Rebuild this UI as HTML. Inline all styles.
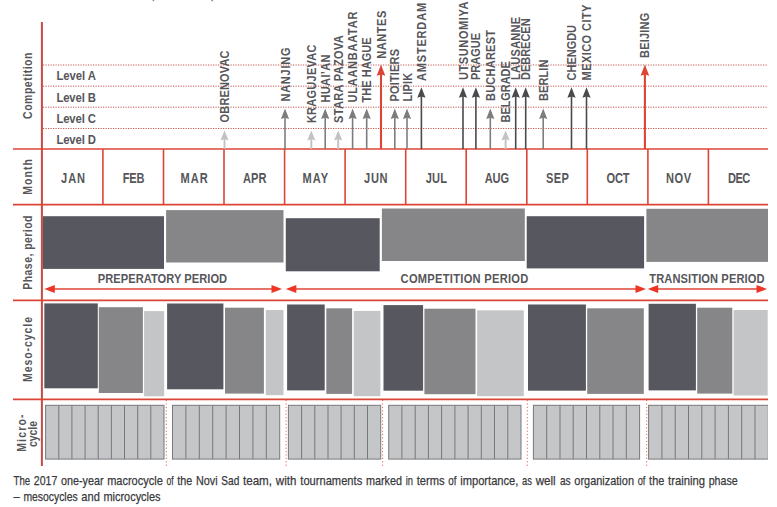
<!DOCTYPE html>
<html><head><meta charset="utf-8"><title>Macrocycle</title>
<style>
html,body{margin:0;padding:0;background:#fff;}
body{width:777px;height:507px;overflow:hidden;position:relative;font-family:"Liberation Sans",sans-serif;}
svg text{font-family:"Liberation Sans",sans-serif;}
.bd{font-weight:bold;}
</style></head><body>
<svg width="777" height="507" viewBox="0 0 777 507" style="position:absolute;left:0;top:0;display:block">
<rect x="0" y="0" width="777" height="507" fill="#ffffff"/>
<rect x="152.6" y="0" width="1.6" height="1.2" fill="#8a8a8c"/>
<rect x="211.3" y="0" width="1.8" height="1.2" fill="#8a8a8c"/>
<line x1="43" y1="65" x2="768" y2="65" stroke="#c6564e" stroke-width="1" stroke-dasharray="1.2 1.3"/>
<line x1="43" y1="86.2" x2="768" y2="86.2" stroke="#c6564e" stroke-width="1" stroke-dasharray="1.2 1.3"/>
<line x1="43" y1="107.2" x2="768" y2="107.2" stroke="#c6564e" stroke-width="1" stroke-dasharray="1.2 1.3"/>
<line x1="43" y1="128.5" x2="768" y2="128.5" stroke="#c6564e" stroke-width="1" stroke-dasharray="1.2 1.3"/>
<rect x="42.8" y="216.2" width="121.2" height="52.7" fill="#57575f"/>
<rect x="166.1" y="210.1" width="117.4" height="52.4" fill="#868689"/>
<rect x="285.8" y="218.2" width="93.9" height="53.1" fill="#57575f"/>
<rect x="381.9" y="208.5" width="142.9" height="52.5" fill="#868689"/>
<rect x="526.7" y="216.2" width="117.4" height="52.2" fill="#57575f"/>
<rect x="646.4" y="208.8" width="121.6" height="53.1" fill="#868689"/>
<rect x="44.3" y="303.4" width="53.5" height="84.9" fill="#57575f"/>
<rect x="98.8" y="307.2" width="44.1" height="85.8" fill="#868689"/>
<rect x="144.1" y="311.1" width="20.1" height="85.2" fill="#c4c5c7"/>
<rect x="167.1" y="303.5" width="56.3" height="85.8" fill="#57575f"/>
<rect x="225" y="307.7" width="38.9" height="85.9" fill="#868689"/>
<rect x="265.8" y="310" width="17.7" height="85.2" fill="#c4c5c7"/>
<rect x="287.1" y="304.5" width="37.6" height="85.9" fill="#57575f"/>
<rect x="326.3" y="308.3" width="25.8" height="85.6" fill="#868689"/>
<rect x="353.7" y="310.9" width="26.7" height="85.3" fill="#c4c5c7"/>
<rect x="383.5" y="305.1" width="39.6" height="85.6" fill="#57575f"/>
<rect x="424.4" y="308.7" width="51.1" height="85.5" fill="#868689"/>
<rect x="477.1" y="310.3" width="46.7" height="85.9" fill="#c4c5c7"/>
<rect x="528" y="304.5" width="57.9" height="86.2" fill="#57575f"/>
<rect x="587.2" y="308.3" width="56.6" height="85.6" fill="#868689"/>
<rect x="648.6" y="303.8" width="47.3" height="86.6" fill="#57575f"/>
<rect x="697.2" y="307.7" width="35.1" height="85.9" fill="#868689"/>
<rect x="733.6" y="310" width="34.1" height="85.5" fill="#c4c5c7"/>
<rect x="45.6" y="405.3" width="118.4" height="53.8" fill="#c5c6c8" stroke="#77787b" stroke-width="1"/>
<line x1="58.8" y1="405.3" x2="58.8" y2="459.1" stroke="#77787b" stroke-width="1"/>
<line x1="71.9" y1="405.3" x2="71.9" y2="459.1" stroke="#77787b" stroke-width="1"/>
<line x1="85.1" y1="405.3" x2="85.1" y2="459.1" stroke="#77787b" stroke-width="1"/>
<line x1="98.2" y1="405.3" x2="98.2" y2="459.1" stroke="#77787b" stroke-width="1"/>
<line x1="111.4" y1="405.3" x2="111.4" y2="459.1" stroke="#77787b" stroke-width="1"/>
<line x1="124.5" y1="405.3" x2="124.5" y2="459.1" stroke="#77787b" stroke-width="1"/>
<line x1="137.7" y1="405.3" x2="137.7" y2="459.1" stroke="#77787b" stroke-width="1"/>
<line x1="150.8" y1="405.3" x2="150.8" y2="459.1" stroke="#77787b" stroke-width="1"/>
<rect x="172.5" y="405.3" width="107.2" height="53.8" fill="#c5c6c8" stroke="#77787b" stroke-width="1"/>
<line x1="185.9" y1="405.3" x2="185.9" y2="459.1" stroke="#77787b" stroke-width="1"/>
<line x1="199.3" y1="405.3" x2="199.3" y2="459.1" stroke="#77787b" stroke-width="1"/>
<line x1="212.7" y1="405.3" x2="212.7" y2="459.1" stroke="#77787b" stroke-width="1"/>
<line x1="226.1" y1="405.3" x2="226.1" y2="459.1" stroke="#77787b" stroke-width="1"/>
<line x1="239.5" y1="405.3" x2="239.5" y2="459.1" stroke="#77787b" stroke-width="1"/>
<line x1="252.9" y1="405.3" x2="252.9" y2="459.1" stroke="#77787b" stroke-width="1"/>
<line x1="266.3" y1="405.3" x2="266.3" y2="459.1" stroke="#77787b" stroke-width="1"/>
<rect x="288.4" y="405.3" width="92.3" height="53.8" fill="#c5c6c8" stroke="#77787b" stroke-width="1"/>
<line x1="301.6" y1="405.3" x2="301.6" y2="459.1" stroke="#77787b" stroke-width="1"/>
<line x1="314.8" y1="405.3" x2="314.8" y2="459.1" stroke="#77787b" stroke-width="1"/>
<line x1="328.0" y1="405.3" x2="328.0" y2="459.1" stroke="#77787b" stroke-width="1"/>
<line x1="341.1" y1="405.3" x2="341.1" y2="459.1" stroke="#77787b" stroke-width="1"/>
<line x1="354.3" y1="405.3" x2="354.3" y2="459.1" stroke="#77787b" stroke-width="1"/>
<line x1="367.5" y1="405.3" x2="367.5" y2="459.1" stroke="#77787b" stroke-width="1"/>
<rect x="388.7" y="405.3" width="132.3" height="53.8" fill="#c5c6c8" stroke="#77787b" stroke-width="1"/>
<line x1="401.9" y1="405.3" x2="401.9" y2="459.1" stroke="#77787b" stroke-width="1"/>
<line x1="415.2" y1="405.3" x2="415.2" y2="459.1" stroke="#77787b" stroke-width="1"/>
<line x1="428.4" y1="405.3" x2="428.4" y2="459.1" stroke="#77787b" stroke-width="1"/>
<line x1="441.6" y1="405.3" x2="441.6" y2="459.1" stroke="#77787b" stroke-width="1"/>
<line x1="454.9" y1="405.3" x2="454.9" y2="459.1" stroke="#77787b" stroke-width="1"/>
<line x1="468.1" y1="405.3" x2="468.1" y2="459.1" stroke="#77787b" stroke-width="1"/>
<line x1="481.3" y1="405.3" x2="481.3" y2="459.1" stroke="#77787b" stroke-width="1"/>
<line x1="494.5" y1="405.3" x2="494.5" y2="459.1" stroke="#77787b" stroke-width="1"/>
<line x1="507.8" y1="405.3" x2="507.8" y2="459.1" stroke="#77787b" stroke-width="1"/>
<rect x="533.4" y="405.3" width="106.2" height="53.8" fill="#c5c6c8" stroke="#77787b" stroke-width="1"/>
<line x1="546.7" y1="405.3" x2="546.7" y2="459.1" stroke="#77787b" stroke-width="1"/>
<line x1="560.0" y1="405.3" x2="560.0" y2="459.1" stroke="#77787b" stroke-width="1"/>
<line x1="573.2" y1="405.3" x2="573.2" y2="459.1" stroke="#77787b" stroke-width="1"/>
<line x1="586.5" y1="405.3" x2="586.5" y2="459.1" stroke="#77787b" stroke-width="1"/>
<line x1="599.8" y1="405.3" x2="599.8" y2="459.1" stroke="#77787b" stroke-width="1"/>
<line x1="613.0" y1="405.3" x2="613.0" y2="459.1" stroke="#77787b" stroke-width="1"/>
<line x1="626.3" y1="405.3" x2="626.3" y2="459.1" stroke="#77787b" stroke-width="1"/>
<rect x="648.6" y="405.3" width="119.7" height="53.8" fill="#c5c6c8" stroke="#77787b" stroke-width="1"/>
<line x1="661.9" y1="405.3" x2="661.9" y2="459.1" stroke="#77787b" stroke-width="1"/>
<line x1="675.2" y1="405.3" x2="675.2" y2="459.1" stroke="#77787b" stroke-width="1"/>
<line x1="688.5" y1="405.3" x2="688.5" y2="459.1" stroke="#77787b" stroke-width="1"/>
<line x1="701.8" y1="405.3" x2="701.8" y2="459.1" stroke="#77787b" stroke-width="1"/>
<line x1="715.1" y1="405.3" x2="715.1" y2="459.1" stroke="#77787b" stroke-width="1"/>
<line x1="728.4" y1="405.3" x2="728.4" y2="459.1" stroke="#77787b" stroke-width="1"/>
<line x1="741.7" y1="405.3" x2="741.7" y2="459.1" stroke="#77787b" stroke-width="1"/>
<line x1="755.0" y1="405.3" x2="755.0" y2="459.1" stroke="#77787b" stroke-width="1"/>
<rect x="768" y="396" width="10" height="72" fill="#fff"/>
<line x1="166.3" y1="400" x2="166.3" y2="466" stroke="#dc4535" stroke-width="1" stroke-dasharray="1.2 2.2" opacity="0.8"/>
<line x1="286.1" y1="400" x2="286.1" y2="466" stroke="#dc4535" stroke-width="1" stroke-dasharray="1.2 2.2" opacity="0.8"/>
<line x1="382.6" y1="400" x2="382.6" y2="466" stroke="#dc4535" stroke-width="1" stroke-dasharray="1.2 2.2" opacity="0.8"/>
<line x1="527.3" y1="400" x2="527.3" y2="466" stroke="#dc4535" stroke-width="1" stroke-dasharray="1.2 2.2" opacity="0.8"/>
<line x1="646.7" y1="400" x2="646.7" y2="466" stroke="#dc4535" stroke-width="1" stroke-dasharray="1.2 2.2" opacity="0.8"/>
<line x1="41.9" y1="22" x2="41.9" y2="466" stroke="#c94a42" stroke-width="2"/>
<line x1="13" y1="149" x2="768" y2="149" stroke="#dc4535" stroke-width="1.7"/>
<line x1="13" y1="204.6" x2="768" y2="204.6" stroke="#dc4535" stroke-width="1.7"/>
<line x1="13" y1="300.4" x2="768" y2="300.4" stroke="#dc4535" stroke-width="1.7"/>
<line x1="13" y1="399.3" x2="768" y2="399.3" stroke="#dc4535" stroke-width="1.7"/>
<line x1="102.9" y1="149" x2="102.9" y2="204.6" stroke="#dc4535" stroke-width="1.6"/>
<line x1="163.5" y1="149" x2="163.5" y2="204.6" stroke="#dc4535" stroke-width="1.6"/>
<line x1="224.0" y1="149" x2="224.0" y2="204.6" stroke="#dc4535" stroke-width="1.6"/>
<line x1="284.6" y1="149" x2="284.6" y2="204.6" stroke="#dc4535" stroke-width="1.6"/>
<line x1="345.1" y1="149" x2="345.1" y2="204.6" stroke="#dc4535" stroke-width="1.6"/>
<line x1="405.7" y1="149" x2="405.7" y2="204.6" stroke="#dc4535" stroke-width="1.6"/>
<line x1="466.2" y1="149" x2="466.2" y2="204.6" stroke="#dc4535" stroke-width="1.6"/>
<line x1="526.8" y1="149" x2="526.8" y2="204.6" stroke="#dc4535" stroke-width="1.6"/>
<line x1="587.3" y1="149" x2="587.3" y2="204.6" stroke="#dc4535" stroke-width="1.6"/>
<line x1="647.9" y1="149" x2="647.9" y2="204.6" stroke="#dc4535" stroke-width="1.6"/>
<line x1="708.4" y1="149" x2="708.4" y2="204.6" stroke="#dc4535" stroke-width="1.6"/>
<line x1="50.3" y1="289" x2="276" y2="289" stroke="#dc4535" stroke-width="1.6"/>
<polygon points="44.3,289 54.8,284.9 54.8,293.1" fill="#ee3523"/>
<polygon points="282,289 271.5,284.9 271.5,293.1" fill="#ee3523"/>
<line x1="291.8" y1="289" x2="640" y2="289" stroke="#dc4535" stroke-width="1.6"/>
<polygon points="285.8,289 296.3,284.9 296.3,293.1" fill="#ee3523"/>
<polygon points="646,289 635.5,284.9 635.5,293.1" fill="#ee3523"/>
<line x1="653.7" y1="289" x2="761" y2="289" stroke="#dc4535" stroke-width="1.6"/>
<polygon points="647.7,289 658.2,284.9 658.2,293.1" fill="#ee3523"/>
<polygon points="767,289 756.5,284.9 756.5,293.1" fill="#ee3523"/>
<line x1="224.5" y1="138.4" x2="224.5" y2="149" stroke="#c2c2c4" stroke-width="1.9"/>
<polygon points="224.5,130.4 220.4,140.4 224.5,139.0 228.6,140.4" fill="#c2c2c4"/>
<text transform="translate(229.0,122.4) rotate(-90) scale(0.87,1)" font-size="12.6" class="bd" fill="#56565a" textLength="82.6" lengthAdjust="spacing">OBRENOVAC</text>
<line x1="285" y1="117.1" x2="285" y2="149" stroke="#7d7d80" stroke-width="1.6"/>
<polygon points="285,108.5 280.9,119.1 285,117.69999999999999 289.1,119.1" fill="#7d7d80"/>
<text transform="translate(289.5,101.5) rotate(-90) scale(0.87,1)" font-size="12.6" class="bd" fill="#56565a" textLength="62.0" lengthAdjust="spacing">NANJING</text>
<line x1="311.3" y1="138.4" x2="311.3" y2="149" stroke="#c2c2c4" stroke-width="1.9"/>
<polygon points="311.3,130.4 307.2,140.4 311.3,139.0 315.40000000000003,140.4" fill="#c2c2c4"/>
<text transform="translate(315.8,123.1) rotate(-90) scale(0.87,1)" font-size="12.6" class="bd" fill="#56565a" textLength="90.2" lengthAdjust="spacing">KRAGUJEVAC</text>
<line x1="325.2" y1="117.1" x2="325.2" y2="149" stroke="#7d7d80" stroke-width="1.6"/>
<polygon points="325.2,108.5 321.09999999999997,119.1 325.2,117.69999999999999 329.3,119.1" fill="#7d7d80"/>
<text transform="translate(329.7,102.5) rotate(-90) scale(0.87,1)" font-size="12.6" class="bd" fill="#56565a" textLength="55.2" lengthAdjust="spacing">HUAI’AN</text>
<line x1="338.2" y1="138.4" x2="338.2" y2="149" stroke="#c2c2c4" stroke-width="1.9"/>
<polygon points="338.2,130.4 334.09999999999997,140.4 338.2,139.0 342.3,140.4" fill="#c2c2c4"/>
<text transform="translate(342.7,123.0) rotate(-90) scale(0.87,1)" font-size="12.6" class="bd" fill="#56565a" textLength="100.9" lengthAdjust="spacing">STARA PAZOVA</text>
<line x1="352.6" y1="117.1" x2="352.6" y2="149" stroke="#7d7d80" stroke-width="1.6"/>
<polygon points="352.6,108.5 348.5,119.1 352.6,117.69999999999999 356.70000000000005,119.1" fill="#7d7d80"/>
<text transform="translate(357.1,102.5) rotate(-90) scale(0.87,1)" font-size="12.6" class="bd" fill="#56565a" textLength="104.5" lengthAdjust="spacing">ULAANBAATAR</text>
<line x1="366.7" y1="117.1" x2="366.7" y2="149" stroke="#7d7d80" stroke-width="1.6"/>
<polygon points="366.7,108.5 362.59999999999997,119.1 366.7,117.69999999999999 370.8,119.1" fill="#7d7d80"/>
<text transform="translate(371.2,102.5) rotate(-90) scale(0.87,1)" font-size="12.6" class="bd" fill="#56565a" textLength="74.9" lengthAdjust="spacing">THE HAGUE</text>
<line x1="381" y1="73.80000000000001" x2="381" y2="149" stroke="#dc4535" stroke-width="2.1"/>
<polygon points="381,64.4 376.7,75.80000000000001 381,74.4 385.3,75.80000000000001" fill="#dc4535"/>
<text transform="translate(385.5,58.7) rotate(-90) scale(0.87,1)" font-size="12.6" class="bd" fill="#56565a" textLength="55.2" lengthAdjust="spacing">NANTES</text>
<line x1="394.8" y1="117.1" x2="394.8" y2="149" stroke="#7d7d80" stroke-width="1.6"/>
<polygon points="394.8,108.5 390.7,119.1 394.8,117.69999999999999 398.90000000000003,119.1" fill="#7d7d80"/>
<text transform="translate(399.3,101.6) rotate(-90) scale(0.87,1)" font-size="12.6" class="bd" fill="#56565a" textLength="60.5" lengthAdjust="spacing">POITIERS</text>
<line x1="407" y1="117.1" x2="407" y2="149" stroke="#7d7d80" stroke-width="1.6"/>
<polygon points="407,108.5 402.9,119.1 407,117.69999999999999 411.1,119.1" fill="#7d7d80"/>
<text transform="translate(411.5,101.6) rotate(-90) scale(0.87,1)" font-size="12.6" class="bd" fill="#56565a" textLength="33.1" lengthAdjust="spacing">LIPIK</text>
<line x1="421.4" y1="95.8" x2="421.4" y2="149" stroke="#4a4a4e" stroke-width="1.6"/>
<polygon points="421.4,87.2 417.29999999999995,97.8 421.4,96.39999999999999 425.5,97.8" fill="#4a4a4e"/>
<text transform="translate(425.9,81.0) rotate(-90) scale(0.87,1)" font-size="12.6" class="bd" fill="#56565a" textLength="89.7" lengthAdjust="spacing">AMSTERDAM</text>
<line x1="463" y1="95.8" x2="463" y2="149" stroke="#4a4a4e" stroke-width="1.6"/>
<polygon points="463,87.2 458.9,97.8 463,96.39999999999999 467.1,97.8" fill="#4a4a4e"/>
<text transform="translate(467.5,80.1) rotate(-90) scale(0.87,1)" font-size="12.6" class="bd" fill="#56565a" textLength="90.3" lengthAdjust="spacing">UTSUNOMIYA</text>
<line x1="475.9" y1="95.8" x2="475.9" y2="149" stroke="#4a4a4e" stroke-width="1.6"/>
<polygon points="475.9,87.2 471.79999999999995,97.8 475.9,96.39999999999999 480.0,97.8" fill="#4a4a4e"/>
<text transform="translate(480.4,80.0) rotate(-90) scale(0.87,1)" font-size="12.6" class="bd" fill="#56565a" textLength="54.0" lengthAdjust="spacing">PRAGUE</text>
<line x1="490.3" y1="117.1" x2="490.3" y2="149" stroke="#7d7d80" stroke-width="1.6"/>
<polygon points="490.3,108.5 486.2,119.1 490.3,117.69999999999999 494.40000000000003,119.1" fill="#7d7d80"/>
<text transform="translate(494.8,101.0) rotate(-90) scale(0.87,1)" font-size="12.6" class="bd" fill="#56565a" textLength="81.6" lengthAdjust="spacing">BUCHAREST</text>
<line x1="505.6" y1="138.4" x2="505.6" y2="149" stroke="#c2c2c4" stroke-width="1.9"/>
<polygon points="505.6,130.4 501.5,140.4 505.6,139.0 509.70000000000005,140.4" fill="#c2c2c4"/>
<text transform="translate(510.1,122.4) rotate(-90) scale(0.87,1)" font-size="12.6" class="bd" fill="#56565a" textLength="70.3" lengthAdjust="spacing">BELGRADE</text>
<line x1="515.7" y1="95.8" x2="515.7" y2="149" stroke="#4a4a4e" stroke-width="1.6"/>
<polygon points="515.7,87.2 511.6,97.8 515.7,96.39999999999999 519.8000000000001,97.8" fill="#4a4a4e"/>
<text transform="translate(520.2,80.0) rotate(-90) scale(0.87,1)" font-size="12.6" class="bd" fill="#56565a" textLength="72.6" lengthAdjust="spacing">LAUSANNE</text>
<line x1="525.7" y1="95.8" x2="525.7" y2="149" stroke="#4a4a4e" stroke-width="1.6"/>
<polygon points="525.7,87.2 521.6,97.8 525.7,96.39999999999999 529.8000000000001,97.8" fill="#4a4a4e"/>
<text transform="translate(530.2,80.0) rotate(-90) scale(0.87,1)" font-size="12.6" class="bd" fill="#56565a" textLength="70.8" lengthAdjust="spacing">DEBRECEN</text>
<line x1="543.2" y1="117.1" x2="543.2" y2="149" stroke="#7d7d80" stroke-width="1.6"/>
<polygon points="543.2,108.5 539.1,119.1 543.2,117.69999999999999 547.3000000000001,119.1" fill="#7d7d80"/>
<text transform="translate(547.7,101.0) rotate(-90) scale(0.87,1)" font-size="12.6" class="bd" fill="#56565a" textLength="47.5" lengthAdjust="spacing">BERLIN</text>
<line x1="571.5" y1="95.8" x2="571.5" y2="149" stroke="#4a4a4e" stroke-width="1.6"/>
<polygon points="571.5,87.2 567.4,97.8 571.5,96.39999999999999 575.6,97.8" fill="#4a4a4e"/>
<text transform="translate(576.0,80.4) rotate(-90) scale(0.87,1)" font-size="12.6" class="bd" fill="#56565a" textLength="63.7" lengthAdjust="spacing">CHENGDU</text>
<line x1="586.5" y1="95.8" x2="586.5" y2="149" stroke="#4a4a4e" stroke-width="1.6"/>
<polygon points="586.5,87.2 582.4,97.8 586.5,96.39999999999999 590.6,97.8" fill="#4a4a4e"/>
<text transform="translate(591.0,80.4) rotate(-90) scale(0.87,1)" font-size="12.6" class="bd" fill="#56565a" textLength="87.1" lengthAdjust="spacing">MEXICO CITY</text>
<line x1="644.9" y1="73.80000000000001" x2="644.9" y2="149" stroke="#dc4535" stroke-width="2.1"/>
<polygon points="644.9,64.4 640.6,75.80000000000001 644.9,74.4 649.1999999999999,75.80000000000001" fill="#dc4535"/>
<text transform="translate(649.4,58.0) rotate(-90) scale(0.87,1)" font-size="12.6" class="bd" fill="#56565a" textLength="52.0" lengthAdjust="spacing">BEIJING</text>
<text transform="translate(32.3,118.9) rotate(-90) scale(0.87,1)" font-size="12" class="bd" fill="#56565a" textLength="76.2" lengthAdjust="spacing">Competition</text>
<text transform="translate(32.1,194.7) rotate(-90) scale(0.87,1)" font-size="12" class="bd" fill="#56565a" textLength="40.8" lengthAdjust="spacing">Month</text>
<text transform="translate(32.1,289.7) rotate(-90) scale(0.87,1)" font-size="12" class="bd" fill="#56565a" textLength="85.2" lengthAdjust="spacing">Phase, period</text>
<text transform="translate(32.1,382.0) rotate(-90) scale(0.87,1)" font-size="12" class="bd" fill="#56565a" textLength="74.7" lengthAdjust="spacing">Meso-cycle</text>
<text transform="translate(25.6,451.8) rotate(-90) scale(0.87,1)" font-size="12" class="bd" fill="#56565a" textLength="42.9" lengthAdjust="spacing">Micro-</text>
<text transform="translate(36.7,447.0) rotate(-90) scale(0.87,1)" font-size="12" class="bd" fill="#56565a" textLength="29.9" lengthAdjust="spacing">cycle</text>
<text transform="translate(56.4,80.3) scale(0.87,1)" font-size="13" class="bd" fill="#56565a" textLength="45.4" lengthAdjust="spacing">Level A</text>
<text transform="translate(56.4,101.6) scale(0.87,1)" font-size="13" class="bd" fill="#56565a" textLength="45.4" lengthAdjust="spacing">Level B</text>
<text transform="translate(56.4,122.8) scale(0.87,1)" font-size="13" class="bd" fill="#56565a" textLength="45.4" lengthAdjust="spacing">Level C</text>
<text transform="translate(56.4,144.0) scale(0.87,1)" font-size="13" class="bd" fill="#56565a" textLength="45.4" lengthAdjust="spacing">Level D</text>
<text transform="translate(61.0,183.1) scale(0.79,1)" font-size="14" class="bd" fill="#56565a" textLength="30.5" lengthAdjust="spacing">JAN</text>
<text transform="translate(122.7,183.1) scale(0.79,1)" font-size="14" class="bd" fill="#56565a" textLength="27.6" lengthAdjust="spacing">FEB</text>
<text transform="translate(180.6,183.1) scale(0.79,1)" font-size="14" class="bd" fill="#56565a" textLength="34.4" lengthAdjust="spacing">MAR</text>
<text transform="translate(243.0,183.1) scale(0.79,1)" font-size="14" class="bd" fill="#56565a" textLength="29.6" lengthAdjust="spacing">APR</text>
<text transform="translate(302.4,183.1) scale(0.79,1)" font-size="14" class="bd" fill="#56565a" textLength="32.7" lengthAdjust="spacing">MAY</text>
<text transform="translate(364.1,183.1) scale(0.79,1)" font-size="14" class="bd" fill="#56565a" textLength="29.6" lengthAdjust="spacing">JUN</text>
<text transform="translate(425.8,183.1) scale(0.79,1)" font-size="14" class="bd" fill="#56565a" textLength="26.7" lengthAdjust="spacing">JUL</text>
<text transform="translate(484.7,183.1) scale(0.79,1)" font-size="14" class="bd" fill="#56565a" textLength="30.9" lengthAdjust="spacing">AUG</text>
<text transform="translate(546.1,183.1) scale(0.79,1)" font-size="14" class="bd" fill="#56565a" textLength="28.9" lengthAdjust="spacing">SEP</text>
<text transform="translate(606.6,183.1) scale(0.79,1)" font-size="14" class="bd" fill="#56565a" textLength="28.9" lengthAdjust="spacing">OCT</text>
<text transform="translate(666.0,183.1) scale(0.79,1)" font-size="14" class="bd" fill="#56565a" textLength="31.8" lengthAdjust="spacing">NOV</text>
<text transform="translate(727.9,183.1) scale(0.79,1)" font-size="14" class="bd" fill="#56565a" textLength="28.4" lengthAdjust="spacing">DEC</text>
<text transform="translate(97.8,282.6) scale(0.87,1)" font-size="12.8" class="bd" fill="#56565a" textLength="148.7" lengthAdjust="spacing">PREPERATORY PERIOD</text>
<text transform="translate(400.6,282.6) scale(0.87,1)" font-size="12.8" class="bd" fill="#56565a" textLength="146.8" lengthAdjust="spacing">COMPETITION PERIOD</text>
<text transform="translate(649.3,282.6) scale(0.87,1)" font-size="12.8" class="bd" fill="#56565a" textLength="132.4" lengthAdjust="spacing">TRANSITION PERIOD</text>
<text x="13.5" y="484.9" font-size="13.5" fill="#38383b" stroke="#38383b" stroke-width="0.25" textLength="16.6" lengthAdjust="spacingAndGlyphs">The</text>
<text x="33.8" y="484.9" font-size="13.5" fill="#38383b" stroke="#38383b" stroke-width="0.25" textLength="23.5" lengthAdjust="spacingAndGlyphs">2017</text>
<text x="61" y="484.9" font-size="13.5" fill="#38383b" stroke="#38383b" stroke-width="0.25" textLength="42.5" lengthAdjust="spacingAndGlyphs">one-year</text>
<text x="107.2" y="484.9" font-size="13.5" fill="#38383b" stroke="#38383b" stroke-width="0.25" textLength="55.6" lengthAdjust="spacingAndGlyphs">macrocycle</text>
<text x="166.5" y="484.9" font-size="13.5" fill="#38383b" stroke="#38383b" stroke-width="0.25" textLength="7.1" lengthAdjust="spacingAndGlyphs">of</text>
<text x="177.3" y="484.9" font-size="13.5" fill="#38383b" stroke="#38383b" stroke-width="0.25" textLength="15.0" lengthAdjust="spacingAndGlyphs">the</text>
<text x="196" y="484.9" font-size="13.5" fill="#38383b" stroke="#38383b" stroke-width="0.25" textLength="21.6" lengthAdjust="spacingAndGlyphs">Novi</text>
<text x="221.3" y="484.9" font-size="13.5" fill="#38383b" stroke="#38383b" stroke-width="0.25" textLength="18.0" lengthAdjust="spacingAndGlyphs">Sad</text>
<text x="243" y="484.9" font-size="13.5" fill="#38383b" stroke="#38383b" stroke-width="0.25" textLength="29.0" lengthAdjust="spacingAndGlyphs">team,</text>
<text x="275.8" y="484.9" font-size="13.5" fill="#38383b" stroke="#38383b" stroke-width="0.25" textLength="20.6" lengthAdjust="spacingAndGlyphs">with</text>
<text x="300.3" y="484.9" font-size="13.5" fill="#38383b" stroke="#38383b" stroke-width="0.25" textLength="61.9" lengthAdjust="spacingAndGlyphs">tournaments</text>
<text x="365.9" y="484.9" font-size="13.5" fill="#38383b" stroke="#38383b" stroke-width="0.25" textLength="36.1" lengthAdjust="spacingAndGlyphs">marked</text>
<text x="405.7" y="484.9" font-size="13.5" fill="#38383b" stroke="#38383b" stroke-width="0.25" textLength="7.3" lengthAdjust="spacingAndGlyphs">in</text>
<text x="416.7" y="484.9" font-size="13.5" fill="#38383b" stroke="#38383b" stroke-width="0.25" textLength="27.9" lengthAdjust="spacingAndGlyphs">terms</text>
<text x="448.3" y="484.9" font-size="13.5" fill="#38383b" stroke="#38383b" stroke-width="0.25" textLength="8.2" lengthAdjust="spacingAndGlyphs">of</text>
<text x="460.2" y="484.9" font-size="13.5" fill="#38383b" stroke="#38383b" stroke-width="0.25" textLength="58.2" lengthAdjust="spacingAndGlyphs">importance,</text>
<text x="522.1" y="484.9" font-size="13.5" fill="#38383b" stroke="#38383b" stroke-width="0.25" textLength="9.9" lengthAdjust="spacingAndGlyphs">as</text>
<text x="535.7" y="484.9" font-size="13.5" fill="#38383b" stroke="#38383b" stroke-width="0.25" textLength="20.0" lengthAdjust="spacingAndGlyphs">well</text>
<text x="559.9" y="484.9" font-size="13.5" fill="#38383b" stroke="#38383b" stroke-width="0.25" textLength="10.7" lengthAdjust="spacingAndGlyphs">as</text>
<text x="574.3" y="484.9" font-size="13.5" fill="#38383b" stroke="#38383b" stroke-width="0.25" textLength="59.7" lengthAdjust="spacingAndGlyphs">organization</text>
<text x="637.7" y="484.9" font-size="13.5" fill="#38383b" stroke="#38383b" stroke-width="0.25" textLength="7.7" lengthAdjust="spacingAndGlyphs">of</text>
<text x="649.1" y="484.9" font-size="13.5" fill="#38383b" stroke="#38383b" stroke-width="0.25" textLength="15.2" lengthAdjust="spacingAndGlyphs">the</text>
<text x="668.0" y="484.9" font-size="13.5" fill="#38383b" stroke="#38383b" stroke-width="0.25" textLength="37.0" lengthAdjust="spacingAndGlyphs">training</text>
<text x="708.7" y="484.9" font-size="13.5" fill="#38383b" stroke="#38383b" stroke-width="0.25" textLength="29.0" lengthAdjust="spacingAndGlyphs">phase</text>
<text x="13.4" y="501.0" font-size="13.5" fill="#38383b" stroke="#38383b" stroke-width="0.25" textLength="6.3" lengthAdjust="spacingAndGlyphs">–</text>
<text x="23.4" y="501.0" font-size="13.5" fill="#38383b" stroke="#38383b" stroke-width="0.25" textLength="54.2" lengthAdjust="spacingAndGlyphs">mesocycles</text>
<text x="81.3" y="501.0" font-size="13.5" fill="#38383b" stroke="#38383b" stroke-width="0.25" textLength="18.5" lengthAdjust="spacingAndGlyphs">and</text>
<text x="103.5" y="501.0" font-size="13.5" fill="#38383b" stroke="#38383b" stroke-width="0.25" textLength="57.0" lengthAdjust="spacingAndGlyphs">microcycles</text>
</svg>
</body></html>
